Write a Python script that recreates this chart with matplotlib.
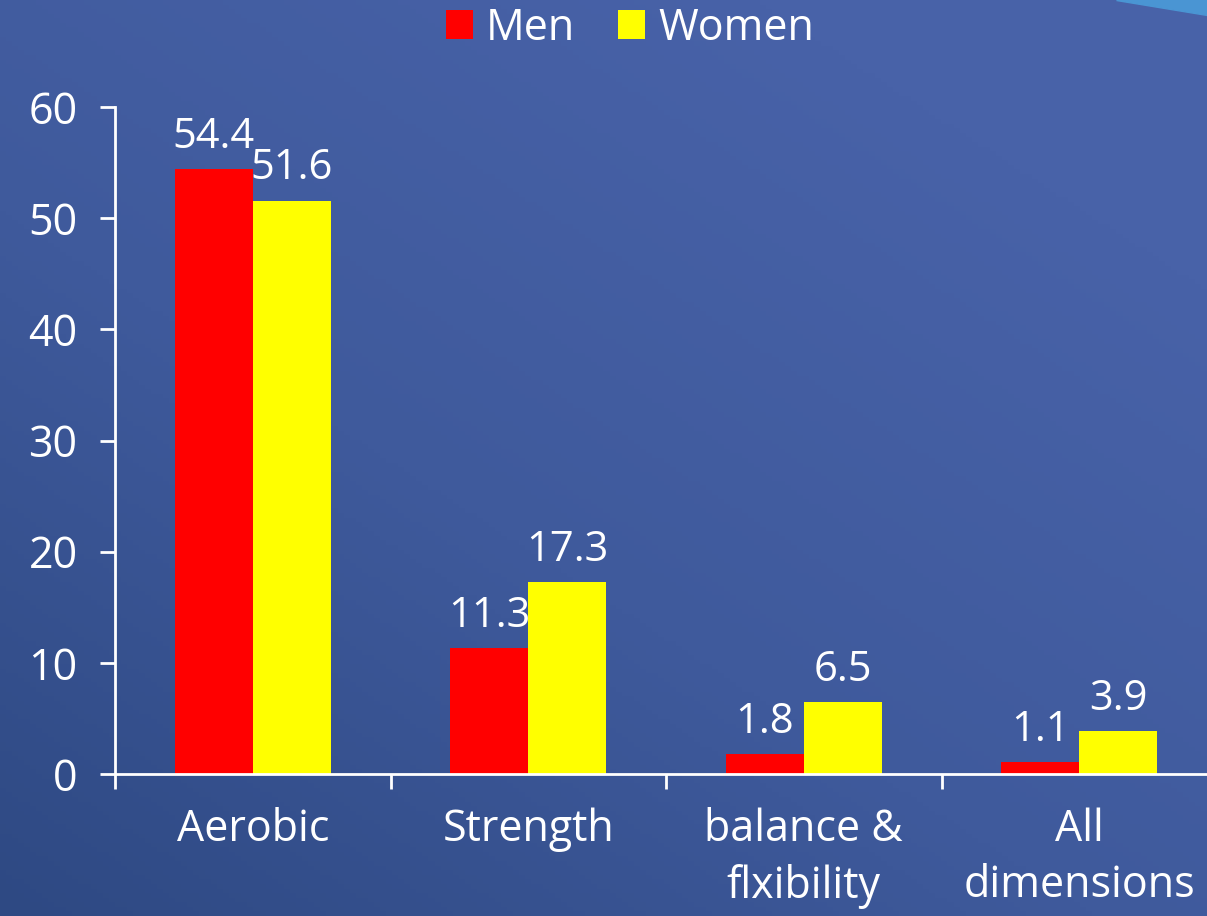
import numpy as np
import matplotlib
matplotlib.use("Agg")
import matplotlib.pyplot as plt
from matplotlib.colors import LinearSegmentedColormap
from matplotlib.patches import Polygon

categories = ["Aerobic", "Strength", "balance &\nflxibility", "All\ndimensions"]
men = [54.4, 11.3, 1.8, 1.1]
women = [51.6, 17.3, 6.5, 3.9]
men_labels = ["54.4", "11.3", "1.8", "1.1"]
women_labels = ["51.6", "17.3", "6.5", "3.9"]

plt.rcParams['font.family'] = ['Open Sans', 'DejaVu Sans']

fig = plt.figure(figsize=(12.07, 9.16), dpi=100)

# background gradient
bg = fig.add_axes([0, 0, 1, 1], zorder=-10)
xx, yy = np.meshgrid(np.linspace(0, 1, 200), np.linspace(0, 1, 200))
grad = np.clip(0.55 * xx + 0.65 * yy, 0, 1)
cmap = LinearSegmentedColormap.from_list("bg", ["#2e4983", "#3f5a9c", "#4862a8"])
bg.imshow(grad, cmap=cmap, origin="lower", extent=[0, 1, 0, 1], aspect="auto")
bg.add_patch(Polygon([[0.925, 1], [1, 1], [1, 0.984]], closed=True, color="#4a95d3"))
bg.set_xlim(0, 1)
bg.set_ylim(0, 1)
bg.axis("off")

ax = fig.add_axes([0.0953, 0.155, 0.913, 0.728])
ax.patch.set_alpha(0)

x = np.arange(len(categories))
w = 0.283
ax.bar(x - w / 2, men, w, color="#ff0000", label="Men")
ax.bar(x + w / 2, women, w, color="#ffff00", label="Women")

for i in range(len(categories)):
    ax.text(x[i] - w / 2, men[i] + 1.0, men_labels[i], ha="center", va="bottom",
            color="white", fontsize=30)
    ax.text(x[i] + w / 2, women[i] + 1.0, women_labels[i], ha="center", va="bottom",
            color="white", fontsize=30)

ax.set_xlim(-0.5, 3.5)
ax.set_ylim(0, 60)
ax.set_yticks(range(0, 61, 10))
ax.set_xticks([-0.5, 0.5, 1.5, 2.5])
ax.set_xticklabels([])
ax.tick_params(axis="y", colors="white", labelsize=31, length=11, width=2, pad=16, direction="out")
ax.tick_params(axis="x", colors="white", length=11, width=2, direction="out")
for s in ["top", "right"]:
    ax.spines[s].set_visible(False)
for s in ["left", "bottom"]:
    ax.spines[s].set_color("white")
    ax.spines[s].set_linewidth(2)

for i, c in enumerate(categories):
    ax.text(x[i], -3.0, c, ha="center", va="top", color="white", fontsize=31,
            linespacing=1.35)

fig.legend(loc="center", bbox_to_anchor=(0.522, 0.969), ncol=2,
           frameon=False, fontsize=31, labelcolor="white", handlelength=0.63,
           handleheight=0.63, handletextpad=0.3, columnspacing=1.0)

fig.savefig("out.png", dpi=100)
